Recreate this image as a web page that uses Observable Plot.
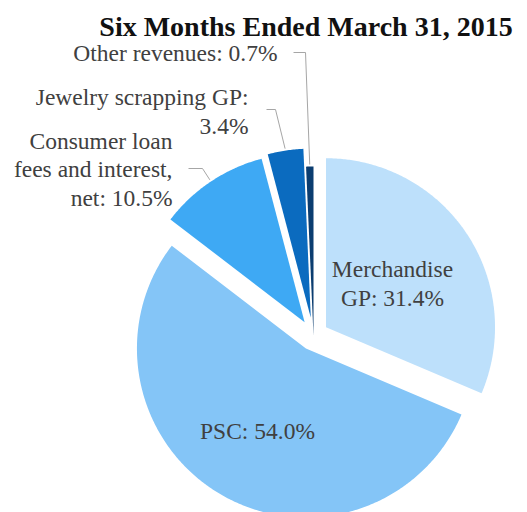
<!DOCTYPE html>
<html><head><meta charset="utf-8">
<script src="https://cdn.jsdelivr.net/npm/d3@7"></script>
<script src="https://cdn.jsdelivr.net/npm/@observablehq/plot@0.6"></script>
<style>body{margin:0;background:#fff} #chart svg{display:block}</style>
</head><body><div id="chart"></div>
<script>
// ---- data ----
const title = "Six Months Ended March 31, 2015";
const categories = ["Merchandise GP", "PSC", "Consumer loan fees and interest, net", "Jewelry scrapping GP", "Other revenues"];
const shares = [31.4, 54.0, 10.5, 3.4, 0.7];
const labelTexts = ["Merchandise\nGP: 31.4%", "PSC: 54.0%", "Consumer loan\nfees and interest,\nnet: 10.5%", "Jewelry scrapping GP:\n3.4%", "Other revenues: 0.7%"];

// ---- styles / layout ----
const colors = ["#bde0fb", "#84c5f7", "#3ea9f4", "#0b6bbf", "#0b3d70"];
const explode = [15, 15, 16, 18, 0];
const W = 527, H = 512;
const center = [313, 335], R = 169;
const labelLayout = [
  {x: 392, y: 305, anchor: "middle"},
  {x: 257, y: 438, anchor: "middle"},
  {x: 172, y: 205, anchor: "end", leader: [188, 168, 202]},
  {x: 248, y: 133, anchor: "end", leader: [266, 109, 275]},
  {x: 277, y: 60, anchor: "end", leader: [293, 52, 305]}
];

// ---- geometry from the data ----
const arcs = d3.pie().sort(null).value(d => d)(shares);
const slicePts = [];
const leaderPts = [];
const labels = [];
arcs.forEach((a, i) => {
  const mid = (a.startAngle + a.endAngle) / 2;
  const vx = center[0] + explode[i] * Math.sin(mid);
  const vy = center[1] - explode[i] * Math.cos(mid);
  const cat = categories[i];
  slicePts.push({cat, x: vx, y: vy});
  const n = Math.max(2, Math.ceil((a.endAngle - a.startAngle) / (Math.PI / 360)));
  for (let k = 0; k <= n; k++) {
    const t = a.startAngle + (a.endAngle - a.startAngle) * k / n;
    slicePts.push({cat, x: vx + R * Math.sin(t), y: vy - R * Math.cos(t)});
  }
  const L = labelLayout[i];
  labels.push({cat, text: labelTexts[i], x: L.x, y: L.y, anchor: L.anchor});
  if (L.leader) {
    const [sx, sy, ex] = L.leader;
    leaderPts.push({cat, x: sx, y: sy});
    leaderPts.push({cat, x: ex, y: sy});
    leaderPts.push({cat, x: vx + (R + 2) * Math.sin(mid), y: vy - (R + 2) * Math.cos(mid)});
  }
});

const font = "'Liberation Serif', 'Times New Roman', serif";
const chart = Plot.plot({
  width: W, height: H,
  margin: 0,
  x: {domain: [0, W], range: [0, W], axis: null},
  y: {domain: [0, H], range: [0, H], axis: null},
  color: {domain: categories, range: colors},
  style: {fontFamily: font, background: "#fff"},
  marks: [
    Plot.line(slicePts, {x: "x", y: "y", z: "cat", fill: "cat", stroke: "none", curve: "linear-closed"}),
    Plot.line(leaderPts, {x: "x", y: "y", z: "cat", stroke: "#a6a6a6", strokeWidth: 1, strokeLinecap: "butt", strokeLinejoin: "miter"}),
    Plot.text(labels.filter(d => d.anchor === "middle"), {x: "x", y: "y", text: "text", textAnchor: "middle", lineAnchor: "bottom", lineHeight: 1.2, fontSize: 23.5, fontFamily: font, fill: "#404040"}),
    Plot.text(labels.filter(d => d.anchor === "end"), {x: "x", y: "y", text: "text", textAnchor: "end", lineAnchor: "bottom", lineHeight: 1.2, fontSize: 23.5, fontFamily: font, fill: "#404040"}),
    Plot.text([title], {frameAnchor: "top", dx: 42, dy: 35, text: d => d, lineAnchor: "bottom", fontSize: 28, fontWeight: "bold", fontFamily: font, fill: "#111"})
  ]
});
document.getElementById("chart").appendChild(chart);
</script>
</body></html>
